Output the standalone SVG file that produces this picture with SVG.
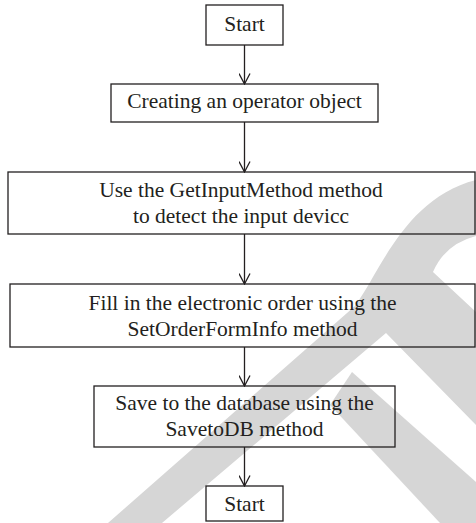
<svg xmlns="http://www.w3.org/2000/svg" width="476" height="523" viewBox="0 0 476 523">
  <defs>
    <style>
      .box { fill: none; stroke: #231f20; stroke-width: 1.3; }
      .lbl { font-family: "Liberation Serif", "Times New Roman", serif; font-size: 21.5px; fill: #231f20; text-anchor: middle; }
      .edge { fill: none; stroke: #231f20; stroke-width: 1.3; }
      .mark { fill: #d6d6d6; }
    </style>
    <marker id="arrow" viewBox="0 0 13 12" refX="12" refY="6" markerWidth="13" markerHeight="12" markerUnits="userSpaceOnUse" orient="auto">
      <path d="M1.5,0.5 L12,6 L1.5,11.5" fill="none" stroke="#231f20" stroke-width="1.3"/>
    </marker>
  </defs>

  <rect width="476" height="523" fill="#ffffff"/>

  <!-- background mark -->
  <g id="backdrop-mark">
    <path class="mark" d="M108,523 L355,306 C380,272 405,198 476,180 L476,236 Q445,244 433,272 L476,312 L476,425 L386,333 L162,523 Z"/>
    <path class="mark" d="M352,372 L476,482 L476,523 L440,523 L330,405 Z"/>
  </g>

  <!-- connectors -->
  <g id="connectors">
    <line class="edge" x1="244.5" y1="45" x2="244.5" y2="84" marker-end="url(#arrow)"/>
    <line class="edge" x1="244.5" y1="122" x2="244.5" y2="172" marker-end="url(#arrow)"/>
    <line class="edge" x1="244.5" y1="234" x2="244.5" y2="284" marker-end="url(#arrow)"/>
    <line class="edge" x1="244.5" y1="347" x2="244.5" y2="386" marker-end="url(#arrow)"/>
    <line class="edge" x1="244.5" y1="447" x2="244.5" y2="486" marker-end="url(#arrow)"/>
  </g>

  <g id="start">
    <rect class="box" x="206" y="5" width="77" height="40"/>
    <text class="lbl" x="244.5" y="31">Start</text>
  </g>

  <g id="create-operator">
    <rect class="box" x="111" y="84" width="267" height="38"/>
    <text class="lbl" x="244.5" y="108">Creating an operator object</text>
  </g>

  <g id="detect-input">
    <rect class="box" x="8" y="172" width="467" height="62"/>
    <text class="lbl" x="241" y="197">Use the GetInputMethod method</text>
    <text class="lbl" x="241" y="223">to detect the input devicc</text>
  </g>

  <g id="fill-order">
    <rect class="box" x="10" y="284" width="465" height="63"/>
    <text class="lbl" x="242.5" y="310">Fill in the electronic order using the</text>
    <text class="lbl" x="242.5" y="336">SetOrderFormInfo method</text>
  </g>

  <g id="save-db">
    <rect class="box" x="94" y="386" width="301" height="61"/>
    <text class="lbl" x="244.5" y="410">Save to the database using the</text>
    <text class="lbl" x="244.5" y="436">SavetoDB method</text>
  </g>

  <g id="end">
    <rect class="box" x="206" y="486" width="77" height="35"/>
    <text class="lbl" x="244.5" y="511">Start</text>
  </g>
</svg>
